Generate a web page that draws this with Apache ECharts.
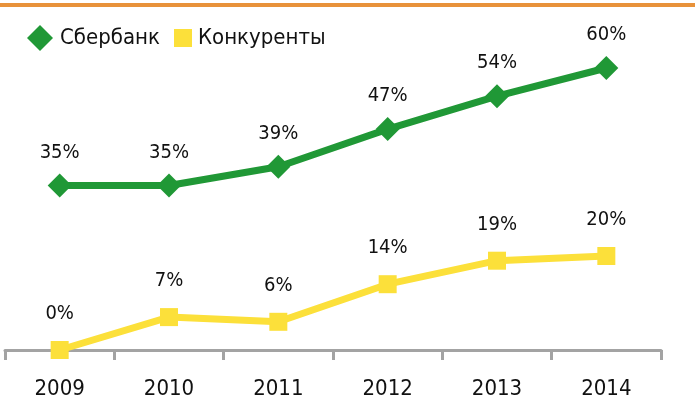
<!DOCTYPE html>
<html>
<head>
<meta charset="utf-8">
<script src="https://cdn.jsdelivr.net/npm/echarts@6/dist/echarts.min.js"></script>
<style>
  html, body { margin: 0; padding: 0; background: #fff; }
  #wrap { position: relative; width: 700px; height: 404px; }
  #topbar { position: absolute; left: 0; top: 3px; width: 695px; height: 4px; background: #E8923A; }
  #chart { width: 700px; height: 404px; }
</style>
</head>
<body>
<div id="wrap">
  <div id="chart"></div>
  <div id="topbar"></div>
</div>
<script>
const years = ['2009', '2010', '2011', '2012', '2013', '2014'];
const sberbank = [35, 35, 39, 47, 54, 60];
const rivals = [0, 7, 6, 14, 19, 20];

const font = '"DejaVu Sans Condensed", "DejaVu Sans", sans-serif';
const green = '#209836';
const yellow = '#FCE03A';

const myChart = echarts.init(document.getElementById('chart'));

function valueLabel(distance) {
  return {
    show: true,
    position: 'top',
    distance: distance,
    formatter: '{c}%',
    fontFamily: font,
    fontSize: 20,
    color: '#111'
  };
}

let option = {
  animation: false,
  // two legends so each icon keeps its own size
  legend: [
    {
      left: 27,
      top: 25,
      padding: 0,
      itemWidth: 26,
      itemHeight: 26,
      textStyle: { fontFamily: font, fontSize: 22, color: '#111', padding: [0, 0, 0, 2] },
      data: [{ name: 'Сбербанк', icon: 'diamond', itemStyle: { color: green } }]
    },
    {
      left: 174,
      top: 27,
      padding: 0,
      itemWidth: 18,
      itemHeight: 18,
      textStyle: { fontFamily: font, fontSize: 22, color: '#111', padding: [0, 0, 0, 1] },
      data: [{ name: 'Конкуренты', icon: 'rect', itemStyle: { color: yellow } }]
    }
  ],
  grid: { left: 5, right: 39, top: 21, bottom: 54 },
  xAxis: {
    type: 'category',
    data: years,
    boundaryGap: true,
    axisLine: { lineStyle: { color: '#a3a3a3', width: 3 } },
    axisTick: { show: true, length: 10, lineStyle: { color: '#a3a3a3', width: 3 } },
    axisLabel: { fontFamily: font, fontSize: 22, color: '#111', margin: 28 }
  },
  yAxis: {
    type: 'value',
    min: 0,
    max: 70,
    show: false,
    splitLine: { show: false }
  },
  series: [
    {
      name: 'Сбербанк',
      type: 'line',
      data: sberbank,
      symbol: 'diamond',
      symbolSize: [24, 24],
      lineStyle: { color: green, width: 7 },
      itemStyle: { color: green },
      label: valueLabel(11),
      z: 3
    },
    {
      name: 'Конкуренты',
      type: 'line',
      data: rivals,
      symbol: 'rect',
      symbolSize: [18, 18],
      lineStyle: { color: yellow, width: 7 },
      itemStyle: { color: yellow },
      label: valueLabel(17),
      z: 2
    }
  ]
};

myChart.setOption(option);
</script>
</body>
</html>
